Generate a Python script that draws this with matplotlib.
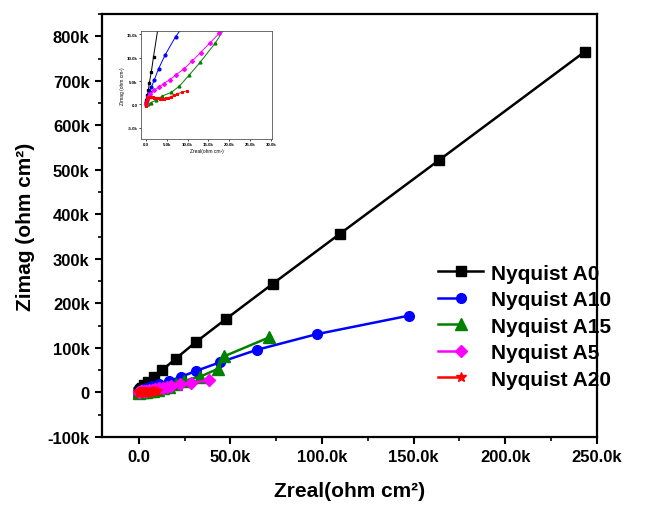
import numpy as np
import matplotlib
matplotlib.use("Agg")
import matplotlib.pyplot as plt
from matplotlib.ticker import FuncFormatter, MultipleLocator
from matplotlib.legend_handler import HandlerLine2D

plt.rcParams["font.family"] = ["Liberation Sans", "DejaVu Sans"]
plt.rcParams["font.weight"] = "bold"

# impedance data, values in k ohm cm^2
a0_x = [0.0, 0.05, 0.1, 0.18, 0.31, 0.55, 0.79, 1.26, 1.8, 2.9, 4.9, 8.2, 12.8, 20.2, 31.2, 47.8, 73.1, 109.9, 163.6, 243.2]
a0_y = [0.0, 0.4, 0.9, 1.4, 2.0, 3.0, 4.6, 6.9, 10.2, 16.5, 23.3, 34.4, 50.0, 76.0, 113.2, 165.6, 244.0, 356.8, 521.0, 764.9]

a10_x = [0.0, 0.24, 0.55, 0.9, 1.3, 2.0, 3.0, 4.6, 7.1, 11.3, 16.4, 23.0, 31.5, 44.5, 64.5, 97.0, 147.6]
a10_y = [0.0, 0.9, 1.8, 2.7, 3.7, 5.3, 7.6, 10.6, 14.5, 19.5, 25.5, 35.0, 48.7, 68.0, 95.8, 130.8, 172.7]

a15_x = [0.0, 0.4, 1.2, 2.4, 3.9, 6.1, 8.0, 10.3, 13.0, 16.7, 20.5, 24.6, 33.6, 43.2, 46.8, 71.3]
a15_y = [-0.2, 0.1, 0.4, 0.9, 1.8, 2.6, 3.9, 6.2, 9.0, 13.2, 18.5, 26.0, 35.5, 53.2, 81.5, 124.0]

a5_x = [0.0, 0.1, 0.4, 1.0, 2.0, 3.0, 4.2, 5.7, 7.3, 9.1, 11.0, 13.1, 15.4, 17.6, 22.6, 28.8, 38.6]
a5_y = [0.0, 0.6, 1.5, 2.3, 3.0, 3.7, 4.4, 5.3, 6.4, 7.6, 9.2, 11.1, 13.2, 15.2, 18.5, 22.0, 27.0]

a20_x = [0.0, 0.05, 0.1, 0.15, 0.25, 0.35, 0.5, 0.7, 0.9, 1.1, 1.3, 1.6, 1.9, 2.2, 2.6, 3.0,
         3.4, 3.8, 4.3, 4.8, 5.4, 6.0, 6.7, 7.5, 8.6, 9.8]
a20_y = [-0.3, 0.2, 0.5, 0.8, 1.1, 1.3, 1.45, 1.55, 1.6, 1.62, 1.6, 1.55, 1.48, 1.4, 1.33, 1.28,
         1.25, 1.23, 1.25, 1.3, 1.45, 1.65, 1.95, 2.25, 2.6, 2.9]

series = [
    ("Nyquist A0", a0_x, a0_y, "black", "s", 7),
    ("Nyquist A10", a10_x, a10_y, "#0000ff", "o", 7),
    ("Nyquist A15", a15_x, a15_y, "#008000", "^", 8),
    ("Nyquist A5", a5_x, a5_y, "#ff00ff", "D", 6),
    ("Nyquist A20", a20_x, a20_y, "#ff0000", "*", 7),
]


class HalfLine(HandlerLine2D):
    # line only up to the marker, Origin style
    def create_artists(self, legend, orig_handle, xdescent, ydescent, width, height, fontsize, trans):
        arts = super().create_artists(legend, orig_handle, xdescent, ydescent, width, height, fontsize, trans)
        for a in arts:
            xd = np.asarray(a.get_xdata(), dtype=float)
            if len(xd) == 3:
                a.set_xdata(np.linspace(xd[0], xd[1], 3))
                a.set_markevery([2])
        return arts


def fmt_main_y(v, pos):
    if abs(v) < 1e-9:
        return "0"
    return f"{v / 1000:.0f}k"


def fmt_k1(v, pos):
    if abs(v) < 1e-9:
        return "0.0"
    return f"{v / 1000:.1f}k"


fig = plt.figure(figsize=(6.47, 5.06), dpi=100)
ax = fig.add_axes([0.1577, 0.1344, 0.765, 0.836])

lines = []
for name, x, y, c, m, ms in series:
    ln, = ax.plot(np.array(x) * 1000, np.array(y) * 1000, color=c, marker=m, ms=ms,
                  lw=1.8, label=name)
    lines.append(ln)

ax.set_xlim(-20000, 250000)
ax.set_ylim(-100000, 850000)
ax.xaxis.set_major_locator(MultipleLocator(50000))
ax.xaxis.set_minor_locator(MultipleLocator(25000))
ax.yaxis.set_major_locator(MultipleLocator(100000))
ax.yaxis.set_minor_locator(MultipleLocator(50000))
ax.xaxis.set_major_formatter(FuncFormatter(fmt_k1))
ax.yaxis.set_major_formatter(FuncFormatter(fmt_main_y))
ax.tick_params(which="major", direction="out", length=5, width=1.5, labelsize=12, pad=4)
ax.tick_params(which="minor", direction="out", length=3, width=1.2)
for s in ax.spines.values():
    s.set_linewidth(1.6)
ax.set_xlabel("Zreal(ohm cm²)", fontsize=15, fontweight="bold", labelpad=12)
ax.set_ylabel("Zimag (ohm cm²)", fontsize=15, fontweight="bold", labelpad=9)

hmap = {ln: HalfLine(numpoints=1) for ln in lines[1:]}
leg = ax.legend(handles=lines, loc="upper left", bbox_to_anchor=(0.678, 0.41), frameon=False,
                fontsize=15, handlelength=2.2, handletextpad=0.35, labelspacing=0.36,
                borderaxespad=0, borderpad=0, numpoints=1, handler_map=hmap)

# inset zoom near origin
ins = fig.add_axes([0.218, 0.7233, 0.2025, 0.2134])
for name, x, y, c, m, ms in series:
    ins.plot(np.array(x) * 1000, np.array(y) * 1000, color=c, marker=m, ms=2,
             lw=0.7)
ins.set_xlim(-1200, 30300)
ins.set_ylim(-7400, 15700)
ins.xaxis.set_major_locator(MultipleLocator(5000))
ins.yaxis.set_major_locator(MultipleLocator(5000))
ins.xaxis.set_major_formatter(FuncFormatter(fmt_k1))
ins.yaxis.set_major_formatter(FuncFormatter(fmt_k1))
ins.tick_params(direction="out", length=1.5, width=0.5, labelsize=3.2, pad=1)
for s in ins.spines.values():
    s.set_linewidth(0.6)
    s.set_color("#555555")
ins.set_xlabel("Zreal(ohm cm²)", fontsize=3.5, labelpad=1)
ins.set_ylabel("Zimag (ohm cm²)", fontsize=3.5, labelpad=1)

fig.savefig("out.png", dpi=100)
